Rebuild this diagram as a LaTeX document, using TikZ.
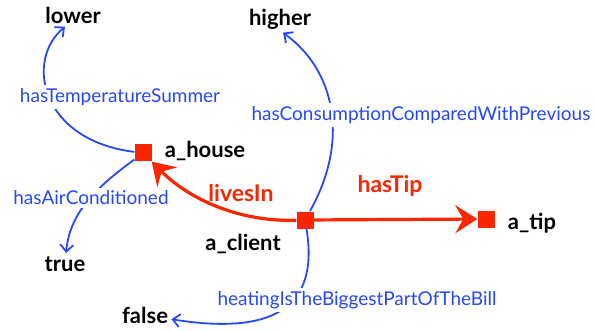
\documentclass[tikz,border=0pt]{standalone}
\usepackage{fontspec}
\setmainfont{Lato}
\usetikzlibrary{arrows.meta}
\definecolor{rdfred}{RGB}{250,38,0}
\definecolor{rdfblue}{RGB}{38,72,250}

\begin{document}
\begin{tikzpicture}[x=1pt,y=-1pt]
    \tikzstyle{res}=[fill=rdfred, minimum size=17pt, inner sep=0pt]
    \tikzstyle{val}=[font=\bfseries\fontsize{22}{22}\selectfont]
    \tikzstyle{prop}=[text=rdfblue, fill=white, inner sep=3pt, font=\fontsize{19}{19}\selectfont]
    \tikzstyle{relname}=[text=rdfred, font=\bfseries\fontsize{23}{23}\selectfont]
    \tikzstyle{link}=[draw=rdfblue, line width=1.8pt, -{Straight Barb[length=7pt,width=13pt]}]
    \tikzstyle{relation}=[draw=rdfred, line width=3.2pt, -{Stealth[length=22pt,width=28pt,inset=8pt]}]
    \useasboundingbox (0,0) rectangle (596,331);
    % resources
    \node[res] (house) at (143,153) {};
    \node[res] (client) at (305,220) {};
    \node[res] (tip) at (486,219) {};
    \node[val] (houselbl) at (205,151) {a\_house};
    \node[val] (clientlbl) at (243,244) {a\_client};
    \node[val] (tiplbl) at (532,223) {a\_tip};
    % values
    \node[val] (lower) at (73,15) {lower};
    \node[val] (higher) at (280,19) {higher};
    \node[val] (true) at (65,264) {true};
    \node[val] (false) at (145,315) {false};
    % properties
    \draw[link] (house) .. controls (40,140) and (25,60) .. ([xshift=-8pt]lower.south);
    \draw[link] (client) .. controls (350,140) and (335,70) .. ([xshift=3pt]higher.south);
    \draw[link] (house) .. controls (100,185) and (70,210) .. (true);
    \draw[link] (client) .. controls (320,310) and (270,335) .. (false);
    \draw[relation] (client) .. controls (240,222) and (190,200) .. (house);
    \draw[relation] (client) -- (tip);
    \node[prop] (tempsummer) at (120,97) {hasTemperatureSummer};
    \node[prop] (consumption) at (421,115) {hasConsumptionComparedWithPrevious};
    \node[prop] (aircond) at (91,198) {hasAirConditioned};
    \node[prop] (heating) at (357,300) {heatingIsTheBiggestPartOfTheBill};
    \node[relname] (livesin) at (241,193) {livesIn};
    \node[relname] (hastip) at (390,186) {hasTip};
\end{tikzpicture}
\end{document}
